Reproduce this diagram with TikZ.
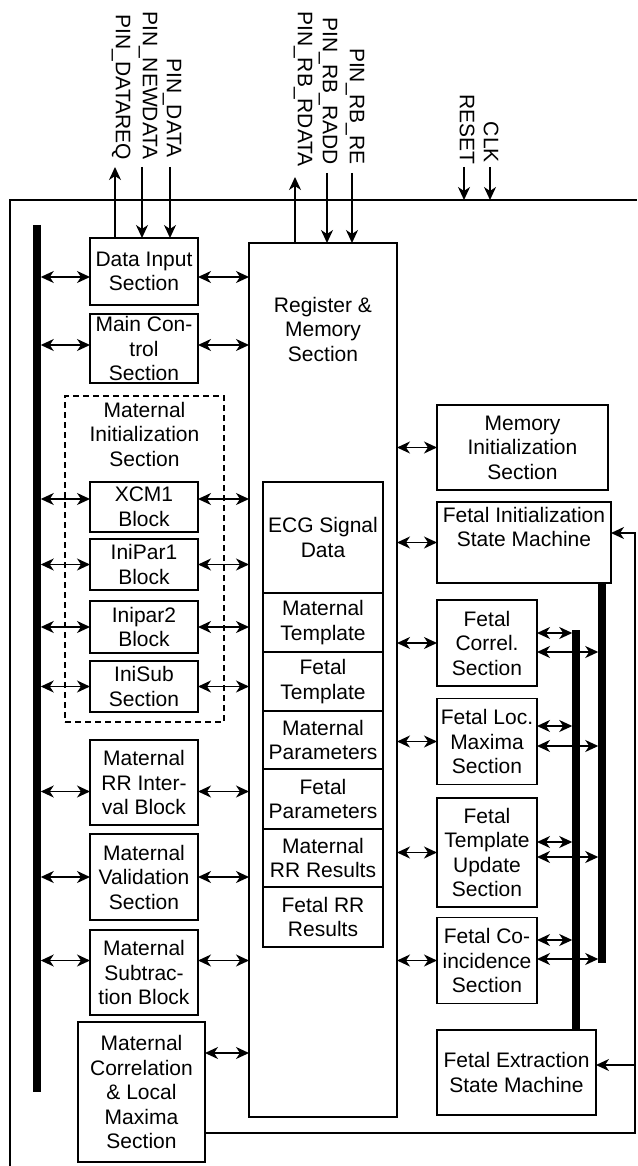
\documentclass[tikz,border=0pt]{standalone}
\usepackage{fontspec}
\setmainfont{Liberation Sans}
\usetikzlibrary{positioning,arrows.meta}
\tikzset{
  >={Stealth[length=13pt,width=12pt,inset=4pt]},
  txt/.style={align=center,inner sep=0pt,font=\fontsize{21}{24.5}\selectfont},
  blk/.style={draw,txt,line width=1.4pt,outer sep=0pt},
  lblk/.style={blk,minimum width=108pt},
  fblk/.style={blk,minimum width=100pt},
  sblk/.style={blk,minimum width=120pt},
  dblk/.style={draw,dash pattern=on 6pt off 4pt,line width=1.4pt,outer sep=0pt},
  flow/.style={<->,line width=1.6pt},
  sig/.style={->,line width=1.6pt},
  bus/.style={line width=7.5pt},
  frame/.style={line width=1.3pt},
  pinlbl/.style={txt,rotate=-90,anchor=east},
}
\begin{document}
\begin{tikzpicture}[x=1pt,y=-1pt]
  \useasboundingbox (0,0) rectangle (637,1166);
  \coordinate (ftop) at (10,200);
  \draw[frame] (10,1166) |- (637,200);

  \node[lblk,minimum height=67pt] (din) at (144,271.5) {Data Input\\Section};
  \node[lblk,minimum height=69pt] (mctl) at (144,348.5) {Main Con-\\trol\\Section};
  \node[dblk,minimum width=159pt,minimum height=326pt] (minit) at (144.5,559) {};
  \node[txt,below=6pt of minit.north] (minittl) {Maternal\\Initialization\\Section};
  \node[lblk,minimum height=50pt] (xcm) at (144,507) {XCM1\\Block};
  \node[lblk,minimum height=51pt] (ip1) at (144,564.5) {IniPar1\\Block};
  \node[lblk,minimum height=52pt] (ip2) at (144,627) {Inipar2\\Block};
  \node[lblk,minimum height=51pt] (isub) at (144,686.5) {IniSub\\Section};
  \node[lblk,minimum height=85pt] (mrr) at (144,782.5) {Maternal\\RR Inter-\\val Block};
  \node[lblk,minimum height=86pt] (mval) at (144,877) {Maternal\\Validation\\Section};
  \node[lblk,minimum height=85pt] (msub) at (144,972.5) {Maternal\\Subtrac-\\tion Block};
  \node[blk,minimum width=127pt,minimum height=140pt] (mcorr) at (141.5,1092)
    {Maternal\\Correlation\\\& Local\\Maxima\\Section};

  \node[blk,minimum width=148pt,minimum height=874pt] (reg) at (323,680) {};
  \node[txt,below=54pt of reg.north] (regttl) {Register \&\\Memory\\Section};
  \node[sblk,minimum height=111pt] (ecg) at (323,537.5) {ECG Signal\\Data};
  \node[sblk,minimum height=59pt,below=0pt of ecg] (mtpl) {Maternal\\Template};
  \node[sblk,minimum height=59pt,below=0pt of mtpl] (ftpl) {Fetal\\Template};
  \node[sblk,minimum height=58pt,below=0pt of ftpl] (mpar) {Maternal\\Parameters};
  \node[sblk,minimum height=60pt,below=0pt of mpar] (fpar) {Fetal\\Parameters};
  \node[sblk,minimum height=58pt,below=0pt of fpar] (mrres) {Maternal\\RR Results};
  \node[sblk,minimum height=60pt,below=0pt of mrres] (frres) {Fetal RR\\Results};

  \node[blk,minimum width=171pt,minimum height=85pt] (meminit) at (522.5,447.5)
    {Memory\\Initialization\\Section};
  \node[blk,minimum width=174pt,minimum height=81pt] (fism) at (524,542.5) {};
  \node[txt,below=5pt of fism.north] (fismttl) {Fetal Initialization\\State Machine};
  \node[fblk,minimum height=86pt] (fcorr) at (487,643) {Fetal\\Correl.\\Section};
  \node[fblk,minimum height=86pt] (floc) at (487,741.5) {Fetal Loc.\\Maxima\\Section};
  \node[fblk,minimum height=109pt] (ftup) at (487,852.5) {Fetal\\Template\\Update\\Section};
  \node[fblk,minimum height=86pt] (fcoin) at (487,960.5) {Fetal Co-\\incidence\\Section};
  \node[blk,minimum width=159pt,minimum height=85pt] (fext) at (516.5,1072.5)
    {Fetal Extraction\\State Machine};

  \coordinate (lbtop) at (37,225);
  \coordinate (lbbot) at (37,1092);
  \draw[bus] (lbtop) -- (lbbot);
  \coordinate (fb1top) at (576,630);
  \draw[bus] (fb1top) -- (fb1top |- fext.north);
  \coordinate (fb2bot) at (602,963);
  \draw[bus] (fism.south -| fb2bot) -- (fb2bot);

  \foreach \b/\s in {din/-5.5,mctl/3.5,xcm/8,ip1/0,ip2/0,isub/0,mrr/-9,mval/0,msub/12}{
    \draw[flow,shorten <=3.75pt] ([yshift=\s pt]\b.west -| lbtop) -- ([yshift=\s pt]\b.west);
    \draw[flow] ([yshift=\s pt]\b.east) -- ([yshift=\s pt]\b.east -| reg.west);
  }
  \draw[flow] ([yshift=39pt]mcorr.east) -- ([yshift=39pt]mcorr.east -| reg.west);

  \foreach \b in {meminit,fism,fcorr,floc,ftup,fcoin}
    \draw[flow] (\b.west -| reg.east) -- (\b.west);

  \foreach \b/\u/\l in {fcorr/10/-9,floc/15.5/-4.5,ftup/10.5/-4.5,fcoin/20.5/1.5}{
    \draw[flow,shorten >=3.75pt] ([yshift=\u pt]\b.east) -- ([yshift=\u pt]\b.east -| fb1top);
    \draw[flow,shorten >=3.75pt] ([yshift=\l pt]\b.east) -- ([yshift=\l pt]\b.east -| fb2bot);
  }

  \coordinate (fbk) at (635,533);
  \draw[sig] ([yshift=-41pt]mcorr.east) -| (fbk) -- (fbk -| fism.east);
  \draw[sig] ([yshift=7.5pt]fext.east -| fbk) -- ([yshift=7.5pt]fext.east);

  \coordinate (pdreq) at (115,167);
  \coordinate (pndata) at (142,167);
  \coordinate (pdata) at (170,167);
  \coordinate (prdata) at (295,177);
  \coordinate (pradd) at (327,173);
  \coordinate (prre) at (352,173);
  \coordinate (preset) at (464,167);
  \coordinate (pclk) at (490,167);
  \draw[sig] (din.north -| pdreq) -- (pdreq);
  \draw[sig] (pndata) -- (pndata |- din.north);
  \draw[sig] (pdata) -- (pdata |- din.north);
  \draw[sig] (reg.north -| prdata) -- (prdata);
  \draw[sig] (pradd) -- (pradd |- reg.north);
  \draw[sig] (prre) -- (prre |- reg.north);
  \draw[sig] (preset) -- (preset |- ftop);
  \draw[sig] (pclk) -- (pclk |- ftop);

  \node[pinlbl] (ldreq) at (121,160) {PIN\_DATAREQ};
  \node[pinlbl] (lndata) at (148,160) {PIN\_NEWDATA};
  \node[pinlbl] (ldata) at (172,158) {PIN\_DATA};
  \node[pinlbl] (lrdata) at (303,167) {PIN\_RB\_RDATA};
  \node[pinlbl] (lradd) at (328,165) {PIN\_RB\_RADD};
  \node[pinlbl] (lrre) at (355,165) {PIN\_RB\_RE};
  \node[pinlbl] (lreset) at (467,165) {RESET};
  \node[pinlbl] (lclk) at (491,163) {CLK};
\end{tikzpicture}
\end{document}
